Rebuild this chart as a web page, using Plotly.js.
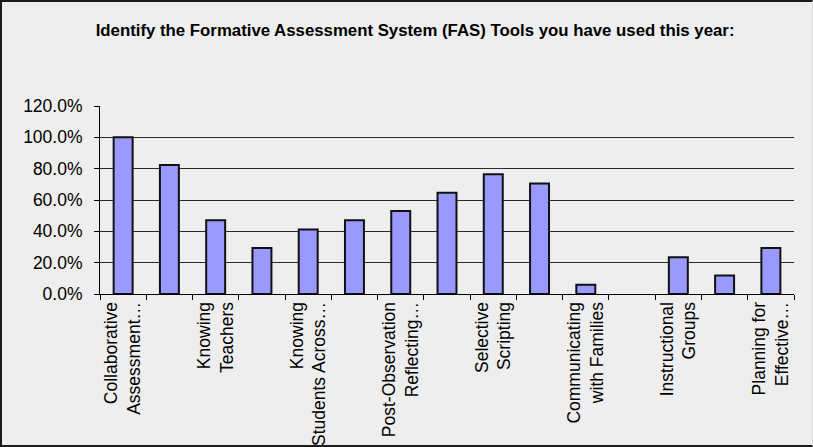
<!DOCTYPE html>
<html>
<head>
<meta charset="utf-8">
<script src="https://cdn.plot.ly/plotly-3.0.1.min.js"></script>
<style>
  html, body { margin: 0; padding: 0; background: #eeeeee; }
  #frame { width: 813px; height: 447px; box-sizing: border-box;
           border-left: 2px solid #1a1a1a; border-top: 2px solid #1a1a1a;
           border-bottom: 2px solid #1a1a1a; border-right: 1px solid #dddddd; }
</style>
</head>
<body>
<div id="frame"><div id="chart"></div></div>
<script>
// Category labels (only every other one is shown in the reference)
const labels = [
  "Collaborative<br>Assessment…", "", "Knowing<br>Teachers", "",
  "Knowing<br>Students Across…", "", "Post-Observation<br>Reflecting…", "",
  "Selective<br>Scripting", "", "Communicating<br>with Families", "",
  "Instructional<br>Groups", "", "Planning for<br>Effective…"
];
// Share of respondents (fraction)
const values = [1.000, 0.824, 0.471, 0.294, 0.412, 0.471, 0.529, 0.647,
                0.765, 0.706, 0.059, 0.0, 0.235, 0.118, 0.294];
const positions = labels.map((_, i) => i);
const boundaries = labels.map((_, i) => i - 0.5).concat([labels.length - 0.5]);
const titleText = "Identify the Formative Assessment System (FAS) Tools you have used this year:";

const trace = {
  type: "bar", x: positions, y: values, width: 0.41,
  marker: { color: "#9999ff", line: { color: "#111111", width: values.map(v => v > 0 ? 2 : 0) } },
  hoverinfo: "skip"
};
// invisible trace to activate the boundary-tick axis
const tickTrace = {
  type: "scatter", x: boundaries, y: boundaries.map(() => 0),
  xaxis: "x2", mode: "markers", marker: { opacity: 0 }, hoverinfo: "skip", showlegend: false
};
const layout = {
  width: 810, height: 443,
  paper_bgcolor: "#eeeeee", plot_bgcolor: "#eeeeee",
  margin: { l: 98, r: 18, t: 104, b: 151 },
  showlegend: false,
  font: { family: "Liberation Sans, Arial, sans-serif", size: 17, color: "#000" },
  title: {
    text: titleText,
    font: { family: "Liberation Sans Narrow, Arial Narrow, Liberation Sans, Arial, sans-serif", size: 16.8, color: "#000", weight: "bold" },
    xref: "container", yref: "container", x: 0.51, y: 0.937, xanchor: "center", yanchor: "middle"
  },
  xaxis: {
    range: [-0.5, labels.length - 0.5], tickmode: "array", tickvals: positions, ticktext: labels,
    tickangle: -90, ticks: "", showgrid: false, zeroline: false,
    showline: true, linecolor: "#000", linewidth: 1, tickfont: { size: 17.5, color: "#000" }, fixedrange: true
  },
  xaxis2: {
    overlaying: "x", anchor: "y", side: "bottom", range: [-0.5, labels.length - 0.5],
    tickmode: "array", tickvals: boundaries, ticks: "outside", ticklen: 5, tickcolor: "#000", tickwidth: 1,
    showticklabels: false, showgrid: false, zeroline: false, showline: false
  },
  yaxis: {
    range: [0, 1.2], dtick: 0.2, tickformat: ".1%",
    showgrid: true, gridcolor: "#2a2a2a", gridwidth: 1,
    zeroline: false, showline: true, linecolor: "#000", linewidth: 1,
    ticks: "outside", ticklen: 5, tickcolor: "#000", ticklabelstandoff: 8,
    tickfont: { size: 17.5, color: "#000" }, fixedrange: true
  },
  bargap: 0.59
};
Plotly.newPlot("chart", [trace, tickTrace], layout, { staticPlot: true, displayModeBar: false });
</script>
</body>
</html>
